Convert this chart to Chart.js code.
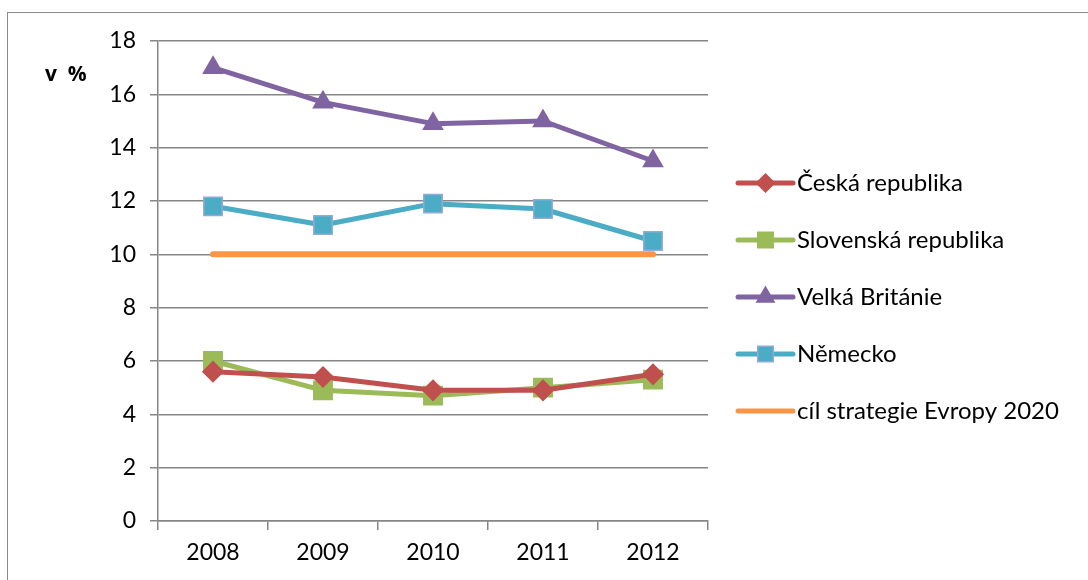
<!DOCTYPE html>
<html>
<head>
<meta charset="utf-8">
<script src="https://cdn.jsdelivr.net/npm/chart.js@4.4.1/dist/chart.umd.min.js"></script>
<style>
  html, body { margin: 0; padding: 0; background: #fff; }
  #wrap { position: relative; width: 1088px; height: 580px; overflow: hidden; }
  #frame { position: absolute; left: 7px; top: 12px; width: 1200px; height: 700px;
           border-left: 1.5px solid #8c8c8c; border-top: 1.5px solid #8c8c8c; }
  canvas { position: absolute; left: 0; top: 0; }
</style>
</head>
<body>
<div id="wrap">
  <div id="frame"></div>
  <canvas id="c" width="1088" height="580"></canvas>
</div>
<script>
// Years and series (in %)
const years = ['2008', '2009', '2010', '2011', '2012'];
const ceskaRepublika = [5.6, 5.4, 4.9, 4.9, 5.5];
const slovenskaRepublika = [6.0, 4.9, 4.7, 5.0, 5.3];
const velkaBritanie = [17.0, 15.7, 14.9, 15.0, 13.5];
const nemecko = [11.8, 11.1, 11.9, 11.7, 10.5];
const cilEvropa2020 = [10, 10, 10, 10, 10];
const yTicks = [0, 2, 4, 6, 8, 10, 12, 14, 16, 18];

const FONT = 'Lato, "Open Sans", sans-serif';

const datasets = [
  { label: 'Česká republika', data: ceskaRepublika, borderColor: '#C0504D', backgroundColor: '#C0504D',
    pointStyle: 'rectRot', pointRadius: 10, pointBorderColor: '#C0504D', legendRadius: 9 },
  { label: 'Slovenská republika', data: slovenskaRepublika, borderColor: '#9BBB59', backgroundColor: '#9BBB59',
    pointStyle: 'rect', pointRadius: 13, pointBorderColor: '#9BBB59', legendRadius: 11 },
  { label: 'Velká Británie', data: velkaBritanie, borderColor: '#8064A2', backgroundColor: '#8064A2',
    pointStyle: 'triangle', pointRadius: 11, pointBorderColor: '#8064A2', legendRadius: 10 },
  { label: 'Německo', data: nemecko, borderColor: '#4BACC6', backgroundColor: '#4BACC6',
    pointStyle: 'rect', pointRadius: 13, pointBorderColor: '#94A9D6', legendRadius: 11 },
  { label: 'cíl strategie Evropy 2020', data: cilEvropa2020, borderColor: '#F79646', backgroundColor: '#F79646',
    pointStyle: false, pointRadius: 0, borderWidth: 6, legendRadius: 0 }
].map(d => Object.assign({ borderWidth: 5, pointBorderWidth: 1.5, borderCapStyle: 'round',
  borderJoinStyle: 'round', tension: 0, pointHoverRadius: d.pointRadius }, d));

// Side legend with line + marker samples, and the "v %" unit label
const sideLegend = {
  id: 'sideLegend',
  afterDraw(chart) {
    const ctx = chart.ctx;
    const area = chart.chartArea;
    const x0 = area.right + 30, x1 = x0 + 55;
    const yStart = 183, step = 57;
    ctx.save();
    chart.data.datasets.forEach((ds, i) => {
      const y = yStart + i * step;
      ctx.strokeStyle = ds.borderColor;
      ctx.lineWidth = 5;
      ctx.lineCap = 'round';
      ctx.beginPath(); ctx.moveTo(x0, y); ctx.lineTo(x1, y); ctx.stroke();
      if (ds.pointStyle) {
        ctx.fillStyle = ds.backgroundColor;
        ctx.strokeStyle = ds.pointBorderColor;
        ctx.lineWidth = ds.pointBorderWidth;
        Chart.helpers.drawPoint(ctx, {
          pointStyle: ds.pointStyle, radius: ds.legendRadius, rotation: 0,
          borderWidth: ds.pointBorderWidth
        }, (x0 + x1) / 2, y);
      }
      ctx.fillStyle = '#000';
      ctx.font = '24px ' + FONT;
      ctx.textAlign = 'left';
      ctx.textBaseline = 'middle';
      ctx.fillText(ds.label, x1 + 4, y);
    });
    ctx.font = 'bold 21px "Open Sans", sans-serif';
    ctx.textAlign = 'left';
    ctx.textBaseline = 'middle';
    ctx.fillStyle = '#000';
    ctx.fillText('v  %', 45, 75);
    ctx.restore();
  }
};

new Chart(document.getElementById('c'), {
  type: 'line',
  data: { labels: years, datasets },
  plugins: [sideLegend],
  options: {
    responsive: false,
    animation: false,
    layout: { padding: { top: 41, right: 380, left: 0, bottom: 0 } },
    plugins: { legend: { display: false }, tooltip: { enabled: false } },
    scales: {
      x: {
        offset: true,
        grid: { display: true, offset: true, drawOnChartArea: false, color: '#868686', lineWidth: 1.5, tickLength: 9 },
        border: { color: '#868686', width: 1.5 },
        ticks: { color: '#000', font: { family: FONT, size: 23 }, padding: 9 },
        afterFit(s) { s.height = 59; }
      },
      y: {
        min: 0, max: 18,
        afterBuildTicks(s) { s.ticks = yTicks.map(v => ({ value: v })); },
        grid: { color: '#868686', lineWidth: 1.5, tickLength: 8 },
        border: { color: '#868686', width: 1.5 },
        ticks: { color: '#000', font: { family: FONT, size: 23 }, padding: 14 },
        afterFit(s) { s.width = 158; }
      }
    }
  }
});
</script>
</body>
</html>
